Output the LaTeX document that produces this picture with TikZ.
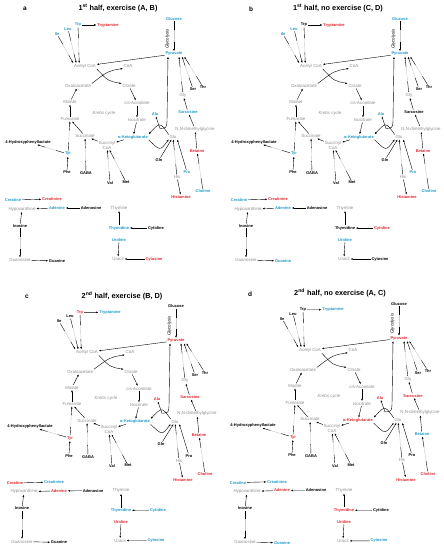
\documentclass[tikz,border=0pt]{standalone}
\usepackage{fontspec}
\setmainfont{Liberation Sans}
\usetikzlibrary{arrows.meta}
\definecolor{cy}{HTML}{1F9BC9}
\definecolor{rd}{HTML}{E2282F}
\definecolor{gy}{HTML}{8F8F8F}
\definecolor{lg}{HTML}{CACACA}
\newcommand\fbold{\fontsize{4}{4.6}\selectfont\bfseries}
\newcommand\fgray{\fontsize{4.4}{5}\selectfont}
\tikzset{
 mb/.style={font=\fbold, inner sep=0.7pt, text=black},
 v/.style={mb, text=c#1},
 g/.style={font=\fgray, inner sep=0.7pt, text=gy},
 ln/.style={line width=0.4pt, black},
 ar/.style={ln, -{Latex[length=2.2pt,width=1.8pt]}},
 gl/.style={line width=0.4pt, lg},
 lab/.style={font=\fontsize{6.5}{7}\selectfont\bfseries},
 ttl/.style={font=\fontsize{7.3}{8}\selectfont\bfseries},
}
\newcommand\one[2]{\draw[ar] (#1) -- (#2);}
\newcommand\multi[2]{\path (#1) -- (#2) coordinate[pos=.3] (p1) coordinate[pos=.7] (p2);
 \draw[ln] (#1) -- (p1); \draw[gl] (p1) -- (p2); \draw[ar] (p2) -- (#2);}
\newcommand\setc[2]{\colorlet{c#1}{#2}}
\newcommand\drawpanel[3]{%
 \node[lab] (lab) at (25,9) {#1};
 \node[ttl] (ttl) at (#3,8) {#2};
 \node[v=Ile] (Ile) at (57,34) {Ile};
 \node[v=Leu] (Leu) at (68,29) {Leu};
 \node[v=Trp] (Trp) at (78,25) {Trp};
 \node[v=Tryptamine] (Tryptamine) at (108,25) {Tryptamine};
 \node[v=Glucose] (Glucose) at (174,19) {Glucose};
 \node[font=\fgray\itshape, rotate=90, inner sep=0.5pt] (Glyc) at (167.5,39) {Glycolysis};
 \node[v=Pyruvate] (Pyruvate) at (174,54) {Pyruvate};
 \node[g] (AcCoA) at (85,66) {Acetyl CoA};
 \node[g] (CoA) at (128,66) {CoA};
 \node[g] (Oxa) at (78,86) {Oxaloacetate};
 \node[g] (Cit) at (129,86) {Citrate};
 \node[g] (Mal) at (70,102) {Malate};
 \node[g] (cisA) at (137,103) {cis-Aconitate};
 \node[g, font=\fgray\itshape] (Krebs) at (104,113) {Krebs cycle};
 \node[g] (Fum) at (70,119) {Fumarate};
 \node[g] (Iso) at (137,120) {Isocitrate};
 \node[v=Ala] (Ala) at (155,114) {Ala};
 \node[v=Sarcosine] (Sar) at (188,112) {Sarcosine};
 \node[g] (Gly) at (183,95) {Gly};
 \node[mb] (Ser) at (193,89) {Ser};
 \node[mb] (Thr) at (203,87) {Thr};
 \node[g] (NN) at (195,129) {N,N-dimethylglycine};
 \node[g] (Succ) at (85,136) {Succinate};
 \node[v=aKG] (aKG) at (133,137) {α-Ketoglutarate};
 \node[g] (Glu) at (173,137) {Glu};
 \node[mb] (HPL) at (28,142) {4-Hydroxyphenyllactate};
 \node[g, align=center] (SucCoA) at (107,145) {Succinyl\\CoA};
 \node[v=Betaine] (Betaine) at (197,151) {Betaine};
 \node[v=Tyr] (Tyr) at (68,154) {Tyr};
 \node[mb] (Gln) at (159,160) {Gln};
 \node[mb] (Phe) at (67,172) {Phe};
 \node[mb] (GABA) at (86,173) {GABA};
 \node[mb] (Val) at (110,183) {Val};
 \node[mb] (Met) at (126,182) {Met};
 \node[v=Pro] (Pro) at (187,172) {Pro};
 \node[g] (His) at (177,177) {His};
 \node[v=Histamine] (Histamine) at (181,197) {Histamine};
 \node[v=Choline] (Choline) at (203,191) {Choline};
 \node[v=Creatine] (Creatine) at (13,200) {Creatine};
 \node[v=Creatinine] (Creatinine) at (52,199) {Creatinine};
 \node[g] (Hypox) at (22,209) {Hypoxanthine};
 \node[v=Adenine] (Adenine) at (57,208) {Adenine};
 \node[mb] (Adenosine) at (91,208) {Adenosine};
 \node[g] (Thymine) at (119,208) {Thymine};
 \node[mb] (Inosine) at (20,226) {Inosine};
 \node[v=Thymidine] (Thymidine) at (119,228) {Thymidine};
 \node[v=Cytidine] (Cytidine) at (156,228) {Cytidine};
 \node[v=Uridine] (Uridine) at (119,240) {Uridine};
 \node[g] (Uracil) at (118,259) {Uracil};
 \node[v=Cytosine] (Cytosine) at (154,259) {Cytosine};
 \node[g] (Guanosine) at (20,260) {Guanosine};
 \node[v=Guanine] (Guanine) at (57,261) {Guanine};
 % connectors
 \one{Trp}{Tryptamine}
 \multi{Ile}{AcCoA.north west}
 \multi{Leu}{[xshift=3pt]AcCoA.north west}
 \multi{Trp}{[xshift=6pt]AcCoA.north west}
 \multi{Glucose}{Pyruvate}
 \one{Pyruvate}{AcCoA}
 \draw[ar] (AcCoA.south east) .. controls (108,81) .. (Cit.north west);
 \draw[ar] (Oxa.north east) .. controls (108,71) .. (CoA.south west);
 \one{Mal}{Oxa}
 \one{Fum}{Mal}
 \one{Succ}{Fum}
 \one{SucCoA}{Succ}
 \one{aKG}{SucCoA}
 \one{Iso}{aKG}
 \one{cisA}{Iso}
 \one{Cit}{cisA}
 \multi{Tyr}{Fum}
 \one{Phe}{Tyr}
 \multi{Tyr}{HPL}
 \multi{GABA}{Succ}
 \multi{Val}{SucCoA}
 \multi{Met}{SucCoA}
 \draw[ar] (Glu.north west) .. controls (160,122) .. (aKG.north east);
 \draw[ar] (aKG.south east) .. controls (160,151) .. (Glu.south west);
 \coordinate (tp) at (160,128.5);
 \draw[ar] (tp) .. controls (166.5,128) .. (167,121) -- ([xshift=-6pt]Pyruvate.south);
 \draw[ar] (tp) -- (Ala);
 \multi{Gly}{[xshift=5pt]Pyruvate.south}
 \multi{Ser}{[xshift=8pt]Pyruvate.south}
 \multi{Thr}{[xshift=1pt]Pyruvate.south east}
 \one{Sar}{Gly}
 \one{NN}{Sar}
 \one{Betaine}{NN}
 \multi{Choline}{Betaine}
 \one{Gln}{Glu}
 \multi{His}{Glu}
 \one{Pro}{Glu.south east}
 \one{His}{Histamine}
 \one{Creatine}{Creatinine}
 \one{Adenine}{Hypox}
 \one{Adenosine}{Adenine}
 \one{Inosine}{Hypox}
 \multi{Inosine}{Guanosine}
 \one{Guanosine}{Guanine}
 \one{Thymidine}{Thymine}
 \one{Cytidine}{Thymidine}
 \one{Uridine}{Uracil}
 \one{Cytosine}{Uracil}
}
\begin{document}
\begin{tikzpicture}[x=1pt,y=-1pt]
\useasboundingbox[fill=white] (0,0) rectangle (444,550);
\begin{scope}
 \setc{Ile}{cy}\setc{Leu}{cy}\setc{Trp}{cy}\setc{Tryptamine}{rd}\setc{Glucose}{cy}\setc{Pyruvate}{cy}
 \setc{Ala}{cy}\setc{Sarcosine}{cy}\setc{Betaine}{rd}\setc{aKG}{cy}\setc{Tyr}{cy}\setc{Pro}{cy}
 \setc{Choline}{cy}\setc{Histamine}{rd}\setc{Creatine}{cy}\setc{Creatinine}{rd}\setc{Adenine}{cy}
 \setc{Thymidine}{cy}\setc{Cytidine}{black}\setc{Uridine}{cy}\setc{Cytosine}{rd}\setc{Guanine}{black}
 \drawpanel{a}{1\textsuperscript{st} half, exercise (A, B)}{118}
\end{scope}
\begin{scope}[shift={(226,0)}]
 \setc{Ile}{cy}\setc{Leu}{cy}\setc{Trp}{black}\setc{Tryptamine}{rd}\setc{Glucose}{cy}\setc{Pyruvate}{cy}
 \setc{Ala}{cy}\setc{Sarcosine}{black}\setc{Betaine}{rd}\setc{aKG}{cy}\setc{Tyr}{cy}\setc{Pro}{cy}
 \setc{Choline}{cy}\setc{Histamine}{rd}\setc{Creatine}{cy}\setc{Creatinine}{rd}\setc{Adenine}{cy}
 \setc{Thymidine}{black}\setc{Cytidine}{rd}\setc{Uridine}{cy}\setc{Cytosine}{black}\setc{Guanine}{cy}
 \drawpanel{b}{1\textsuperscript{st} half, no exercise (C, D)}{112}
\end{scope}
\begin{scope}[shift={(2,288)}, yscale=0.975]
 \setc{Ile}{black}\setc{Leu}{black}\setc{Trp}{rd}\setc{Tryptamine}{cy}\setc{Glucose}{black}\setc{Pyruvate}{rd}
 \setc{Ala}{rd}\setc{Sarcosine}{rd}\setc{Betaine}{rd}\setc{aKG}{cy}\setc{Tyr}{rd}\setc{Pro}{black}
 \setc{Choline}{rd}\setc{Histamine}{rd}\setc{Creatine}{rd}\setc{Creatinine}{cy}\setc{Adenine}{rd}
 \setc{Thymidine}{cy}\setc{Cytidine}{cy}\setc{Uridine}{rd}\setc{Cytosine}{cy}\setc{Guanine}{black}
 \drawpanel{c}{2\textsuperscript{nd} half, exercise (B, D)}{120}
\end{scope}
\begin{scope}[shift={(225,285)}, yscale=0.988]
 \setc{Ile}{black}\setc{Leu}{black}\setc{Trp}{black}\setc{Tryptamine}{cy}\setc{Glucose}{black}\setc{Pyruvate}{rd}
 \setc{Ala}{rd}\setc{Sarcosine}{rd}\setc{Betaine}{cy}\setc{aKG}{rd}\setc{Tyr}{rd}\setc{Pro}{black}
 \setc{Choline}{rd}\setc{Histamine}{rd}\setc{Creatine}{cy}\setc{Creatinine}{cy}\setc{Adenine}{rd}
 \setc{Thymidine}{rd}\setc{Cytidine}{black}\setc{Uridine}{rd}\setc{Cytosine}{cy}\setc{Guanine}{cy}
 \drawpanel{d}{2\textsuperscript{nd} half, no exercise (A, C)}{115}
\end{scope}
\end{tikzpicture}
\end{document}
